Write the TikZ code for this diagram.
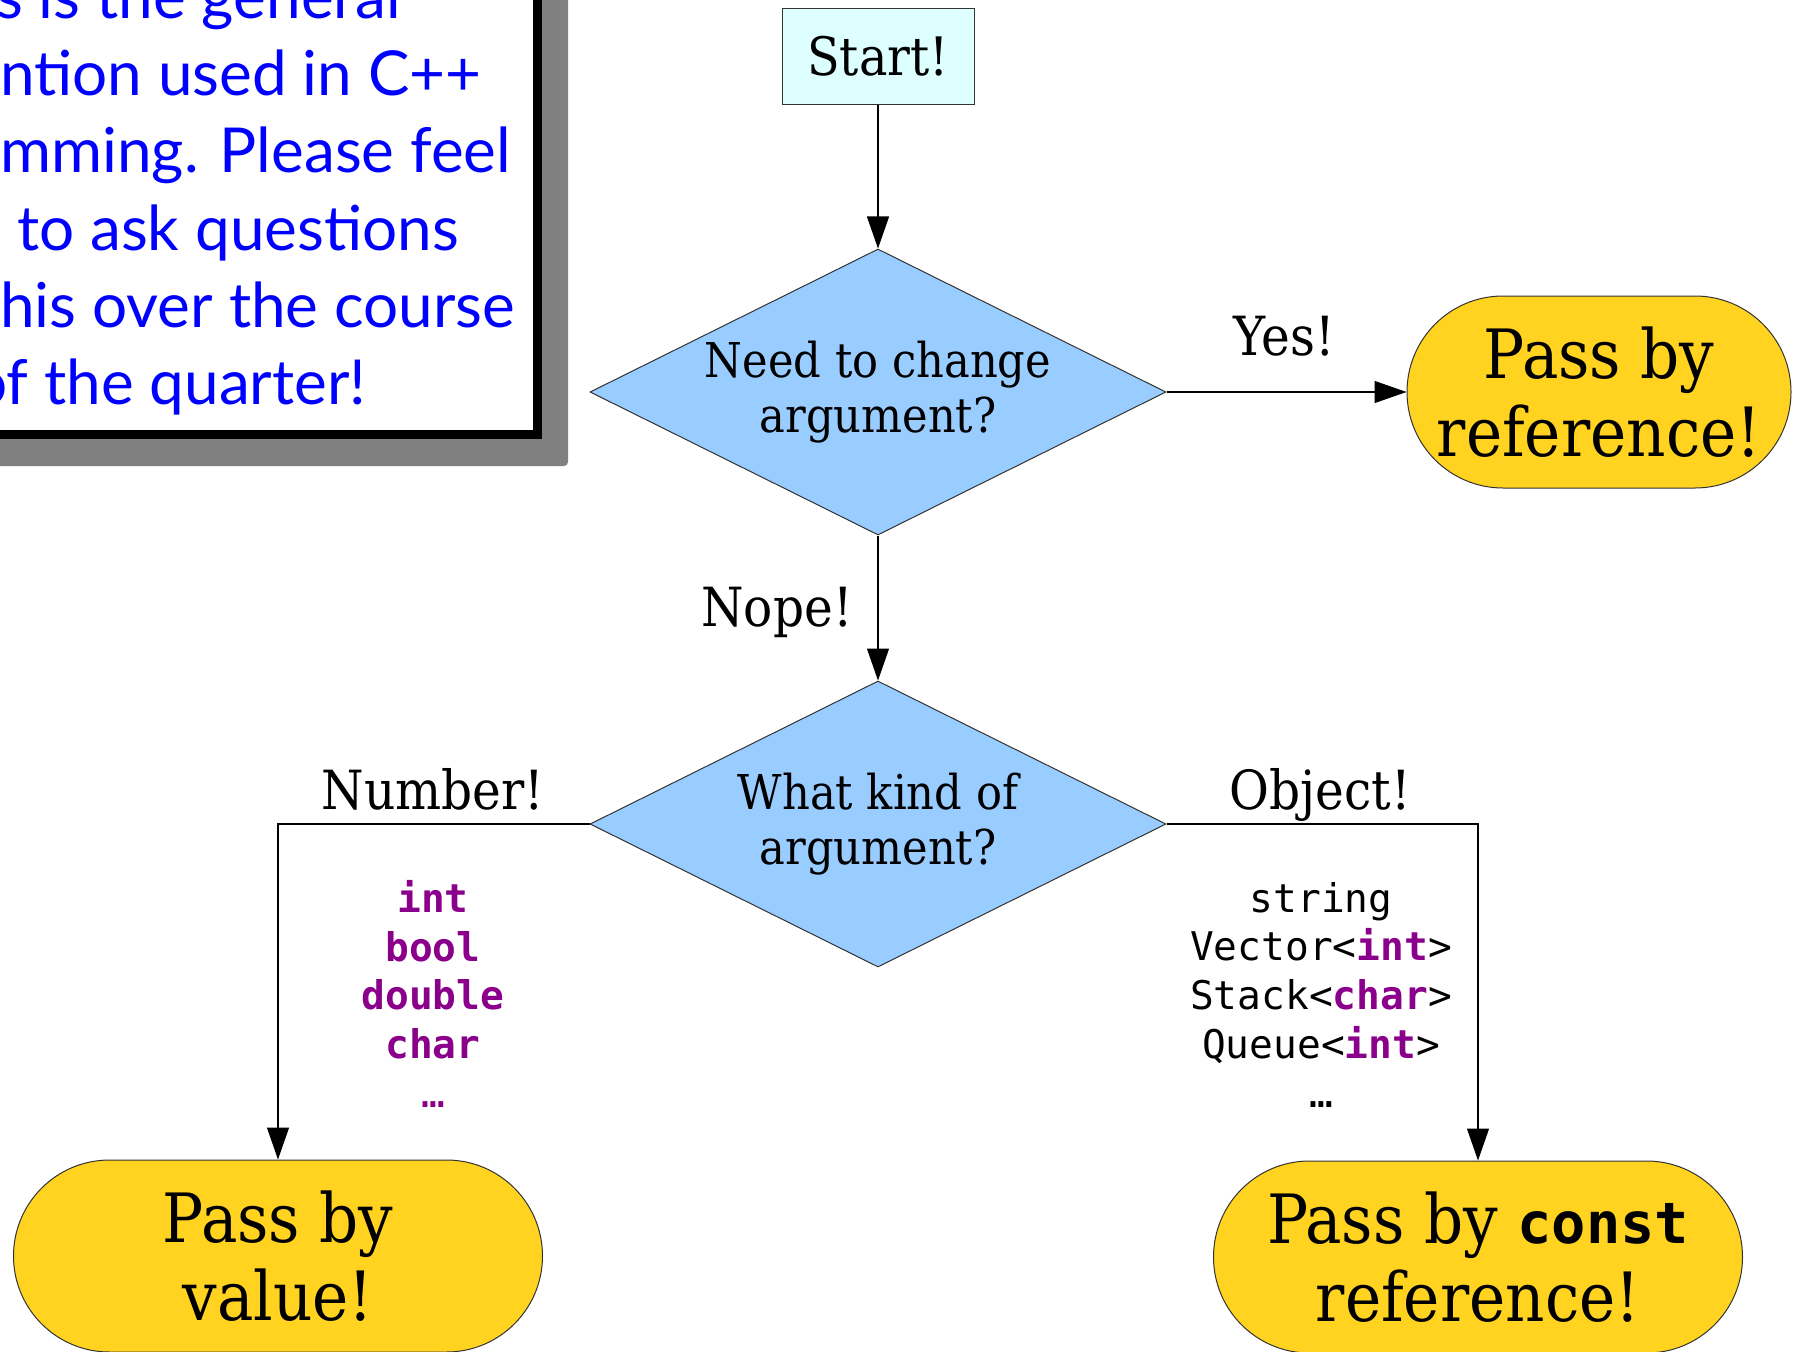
\documentclass[tikz,border=0pt]{standalone}
\usepackage{fontspec}
\setmainfont{DejaVu Serif}[FakeStretch=0.9]
\setmonofont{DejaVu Sans Mono}
\newfontfamily\handfont{Lato}
\usetikzlibrary{arrows.meta,shapes.geometric}
\definecolor{startfill}{RGB}{221,255,255}
\definecolor{diafill}{RGB}{153,204,255}
\definecolor{endfill}{RGB}{255,211,32}
\definecolor{kw}{RGB}{139,0,139}
\definecolor{shadowgray}{RGB}{128,128,128}
\definecolor{handblue}{RGB}{0,0,255}
\newcommand{\kwd}[1]{\textcolor{kw}{\bfseries #1}}
\tikzset{
  startbox/.style={rectangle, draw=black!80, line width=1pt, fill=startfill, minimum width=192pt, minimum height=96pt, inner sep=0pt, font=\fontsize{53}{60}\selectfont},
  decision/.style={diamond, draw=black!80, line width=1pt, fill=diafill, minimum width=576pt, minimum height=286pt, inner sep=0pt, aspect=2, align=center, font=\fontsize{48}{55}\selectfont},
  terminal/.style={rectangle, rounded corners=96pt, draw=black!80, line width=1pt, fill=endfill, minimum height=192pt, inner sep=0pt, align=center, font=\fontsize{68}{78}\selectfont},
  flow/.style={-{Triangle[length=32pt,width=22pt]}, line width=1.2pt, draw=black},
  lbl/.style={inner sep=0pt, anchor=base, font=\fontsize{54}{60}\selectfont},
  codelist/.style={inner sep=0pt, anchor=north, align=center, font=\fontsize{39.5}{48.7}\ttfamily},
  hand/.style={inner sep=0pt, anchor=base west, text=handblue, font=\fontsize{62}{77}\handfont},
}
\begin{document}
\begin{tikzpicture}[x=1pt,y=-1pt]
\useasboundingbox (0,0) rectangle (1797,1352);
\clip (0,0) rectangle (1797,1352);
% note box with shadow
\fill[shadowgray, rounded corners=4pt] (-60,-60) rectangle (568,466);
\draw[line width=9pt, fill=white] (-60,-60) rectangle (537.5,434.5);
\node[hand] (h1) at (-4,18) {\llap{Thi}s is the general};
\node[hand] (h2) at (0,95) {\llap{conve}ntion used in C++};
\node[hand] (h3) at (0,172) {\llap{progra}mming. Please feel};
\node[hand] (h4) at (17,250) {\llap{free }to ask questions};
\node[hand] (h5) at (0,327) {\llap{about t}his over the course};
\node[hand] (h6) at (44,404) {\llap{of }the quarter!};
% flowchart
\node[startbox] (start) at (878,56) {Start!};
\node[decision] (d1) at (878,392) {Need to change\\argument?};
\node[decision] (d2) at (878,824) {What kind of\\argument?};
\node[terminal, minimum width=384pt] (pbr) at (1599,392) {Pass by\\reference!};
\node[terminal, minimum width=529pt] (pbv) at (278,1256) {Pass by\\value!};
\node[terminal, minimum width=529pt] (pbc) at (1478,1257) {Pass by {\fontsize{57}{57}\ttfamily\bfseries const}\\reference!};
\draw[flow] (start) -- (d1);
\draw[flow] (d1) -- (pbr);
\draw[flow] (d1.south) -- (d2.north);
\draw[flow] (d2.west) -| (pbv.north);
\draw[flow] (d2.east) -| (pbc.north);
\node[lbl] (yes) at (1284,355) {Yes!};
\node[lbl] (nope) at (777,626) {Nope!};
\node[lbl] (number) at (433,809) {Number!};
\node[lbl] (object) at (1320,809) {Object!};
\node[codelist] (nums) at (433,880) {\kwd{int}\\\kwd{bool}\\\kwd{double}\\\kwd{char}\\\textcolor{kw}{…}};
\node[codelist] (objs) at (1321,882) {string\\Vector<\kwd{int}>\\Stack<\kwd{char}>\\Queue<\kwd{int}>\\…};
\end{tikzpicture}
\end{document}
